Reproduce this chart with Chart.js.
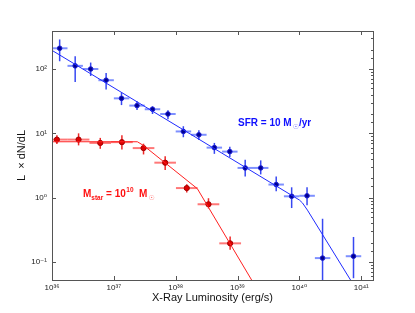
<!DOCTYPE html>
<html>
<head>
<meta charset="utf-8">
<script src="https://cdn.jsdelivr.net/npm/chart.js@4"></script>
<style>
  html, body { margin: 0; padding: 0; background: #fff; }
</style>
</head>
<body>
<canvas id="chart" width="415" height="313"></canvas>
<script>
// Blue sample (SFR = 10 Msun/yr): bin centres, values and error ranges
const blueLum   = [1.33e36, 2.37e36, 4.22e36, 7.5e36, 1.33e37, 2.37e37, 4.22e37, 7.5e37, 1.33e38, 2.37e38, 4.22e38, 7.5e38, 1.33e39, 2.37e39, 4.22e39, 7.5e39, 1.33e40, 2.37e40, 7.5e40];
const blueLumLo = [1.0e36, 1.78e36, 3.16e36, 5.62e36, 1.0e37, 1.78e37, 3.16e37, 5.62e37, 1.0e38, 1.78e38, 3.16e38, 5.62e38, 1.0e39, 1.78e39, 3.16e39, 5.62e39, 1.0e40, 1.78e40, 5.62e40];
const blueLumHi = [1.78e36, 3.16e36, 5.62e36, 1.0e37, 1.78e37, 3.16e37, 5.62e37, 1.0e38, 1.78e38, 3.16e38, 5.62e38, 1.0e39, 1.78e39, 3.16e39, 5.62e39, 1.0e40, 1.78e40, 3.16e40, 1.0e41];
const blueVal   = [210, 112, 100, 67, 35, 27, 23.7, 20, 10.7, 9.5, 6.0, 5.2, 2.9, 2.9, 1.6, 1.05, 1.07, 0.115, 0.123];
const blueHi    = [288, 158, 126, 87, 43, 31.6, 26.3, 22.9, 12.9, 11.2, 7.1, 6.2, 3.9, 3.8, 2.14, 1.45, 1.45, 0.47, 0.245];
const blueLo    = [132, 63, 78, 48, 27.5, 23, 20, 16.6, 8.7, 7.9, 4.8, 4.3, 2.14, 2.3, 1.26, 0.69, 0.76, 0.01, 0.056];

// Red sample (Mstar = 1e10 Msun)
const redLum   = [1.2e36, 2.69e36, 6.03e36, 1.35e37, 3.02e37, 6.76e37, 1.51e38, 3.39e38, 7.59e38];
const redLumLo = [8.04e35, 1.8e36, 4.03e36, 9.0e36, 2.02e37, 4.52e37, 1.01e38, 2.26e38, 5.07e38];
const redLumHi = [1.8e36, 4.03e36, 9.0e36, 2.02e37, 4.52e37, 1.01e38, 2.26e38, 5.07e38, 1.14e39];
const redVal   = [8.0, 8.0, 7.1, 7.3, 5.9, 3.5, 1.41, 0.79, 0.195];
const redHi    = [9.3, 10, 8.5, 9.3, 6.9, 4.4, 1.62, 0.98, 0.25];
const redLo    = [6.8, 6.5, 5.75, 5.6, 4.7, 2.7, 1.2, 0.68, 0.155];

// model curves
const blueFitLum = [1e36, 1e40, 1.12e40, 1.35e40, 8e40];
const blueFitVal = [195, 0.92, 0.83, 0.64, 0.04];
const redFitLum  = [1e36, 2.4e37, 3.0e37, 2.24e38, 2.0e39];
const redFitVal  = [7.4, 7.4, 6.5, 1.38, 0.04];

// axes
const xMin = 1e36, xMax = 1.55e41;
const yMin = 0.0525, yMax = 390;
const xTickPowers = [36, 37, 38, 39, 40, 41];
const xTickLabels = ['10³⁶', '10³⁷', '10³⁸', '10³⁹', '10⁴⁰', '10⁴¹'];
const yTickPowers = [-1, 0, 1, 2];
const yTickLabels = ['10⁻¹', '10⁰', '10¹', '10²'];

const FONT = "'Liberation Sans', Arial, 'DejaVu Sans', sans-serif";

function isDecade(v) {
    const l = Math.log10(v);
    return Math.abs(l - Math.round(l)) < 1e-6;
}

function pts(xs, ys) {
    return xs.map((x, i) => ({ x: x, y: ys[i] }));
}

function drawErrors(chart, lum, lumLo, lumHi, val, lo, hi, colH, colV) {
    const { ctx, scales: { x, y } } = chart;
    for (let i = 0; i < lum.length; i++) {
        const px = x.getPixelForValue(lum[i]);
        const py = y.getPixelForValue(val[i]);
        ctx.strokeStyle = colH;
        ctx.lineWidth = 2;
        ctx.beginPath();
        ctx.moveTo(x.getPixelForValue(lumLo[i]), py);
        ctx.lineTo(x.getPixelForValue(lumHi[i]), py);
        ctx.stroke();
        ctx.strokeStyle = colV;
        ctx.lineWidth = 1.5;
        ctx.beginPath();
        ctx.moveTo(px, y.getPixelForValue(hi[i]));
        ctx.lineTo(px, y.getPixelForValue(lo[i]));
        ctx.stroke();
    }
}

const errorBars = {
    id: 'errorBars',
    beforeDatasetsDraw(chart) {
        const { ctx, chartArea: a } = chart;
        ctx.save();
        ctx.beginPath();
        ctx.rect(a.left, a.top, a.right - a.left, a.bottom - a.top);
        ctx.clip();
        drawErrors(chart, blueLum, blueLumLo, blueLumHi, blueVal, blueLo, blueHi, 'rgba(40,70,255,0.6)', 'rgba(20,40,240,0.85)');
        drawErrors(chart, redLum, redLumLo, redLumHi, redVal, redLo, redHi, 'rgba(255,30,30,0.6)', 'rgba(235,0,0,0.85)');
        ctx.restore();
    }
};

// box round the plot with inward ticks
const frame = {
    id: 'frame',
    afterDraw(chart) {
        const { ctx, chartArea: a, scales: { x, y } } = chart;
        ctx.save();
        ctx.strokeStyle = '#555';
        ctx.lineWidth = 1;
        ctx.strokeRect(a.left + 0.5, a.top + 0.5, a.right - a.left, a.bottom - a.top);
        ctx.beginPath();
        x.ticks.forEach(t => {
            if (!isDecade(t.value)) return;
            const px = Math.round(x.getPixelForValue(t.value)) + 0.5;
            ctx.moveTo(px, a.bottom); ctx.lineTo(px, a.bottom - 4);
            ctx.moveTo(px, a.top); ctx.lineTo(px, a.top + 4);
        });
        y.ticks.forEach(t => {
            const py = Math.round(y.getPixelForValue(t.value)) + 0.5;
            if (py < a.top + 2 || py > a.bottom - 2) return;
            const len = isDecade(t.value) ? 4 : 2;
            ctx.moveTo(a.right, py); ctx.lineTo(a.right - len, py);
            if (isDecade(t.value)) { ctx.moveTo(a.left, py); ctx.lineTo(a.left + len, py); }
        });
        ctx.stroke();
        ctx.restore();
    }
};

// text written inside the plot
const notes = {
    id: 'notes',
    afterDraw(chart) {
        const ctx = chart.ctx;
        ctx.save();
        ctx.textBaseline = 'alphabetic';
        ctx.textAlign = 'left';
        let cx;

        ctx.fillStyle = '#1010ff';
        ctx.font = 'bold 10px ' + FONT;
        ctx.fillText('SFR = 10 M', 238, 126);
        cx = 238 + ctx.measureText('SFR = 10 M').width + 1;
        ctx.fillStyle = '#6a6aff';
        ctx.font = '7px ' + FONT;
        ctx.fillText('☉', cx, 129);
        cx += ctx.measureText('☉').width;
        ctx.fillStyle = '#1010ff';
        ctx.font = 'bold 10px ' + FONT;
        ctx.fillText('/yr', cx, 126);

        ctx.fillStyle = '#ff1010';
        ctx.font = 'bold 10px ' + FONT;
        ctx.fillText('M', 83, 197);
        cx = 83 + ctx.measureText('M').width;
        ctx.font = 'bold 6.5px ' + FONT;
        ctx.fillText('star', cx, 200);
        cx += ctx.measureText('star').width;
        ctx.font = 'bold 10px ' + FONT;
        ctx.fillText(' = 10', cx, 197);
        cx += ctx.measureText(' = 10').width + 0.5;
        ctx.font = 'bold 6.5px ' + FONT;
        ctx.fillText('10', cx, 192);
        cx += ctx.measureText('10').width;
        ctx.font = 'bold 10px ' + FONT;
        ctx.fillText('  M', cx, 197);
        cx += ctx.measureText('  M').width + 1;
        ctx.fillStyle = '#ff6a6a';
        ctx.font = '7px ' + FONT;
        ctx.fillText('☉', cx, 200);
        ctx.restore();
    }
};

new Chart(document.getElementById('chart'), {
    type: 'scatter',
    data: {
        datasets: [
            {
                type: 'line',
                data: pts(blueFitLum, blueFitVal),
                borderColor: '#1f2bff',
                borderWidth: 1,
                pointRadius: 0,
                fill: false
            },
            {
                type: 'line',
                data: pts(redFitLum, redFitVal),
                borderColor: '#ff2020',
                borderWidth: 1,
                pointRadius: 0,
                fill: false
            },
            {
                data: pts(blueLum, blueVal),
                backgroundColor: '#00008f',
                borderColor: '#1a1ad0',
                borderWidth: 1,
                pointRadius: 2.3
            },
            {
                data: pts(redLum, redVal),
                backgroundColor: '#e00000',
                borderColor: '#a00000',
                borderWidth: 1,
                pointRadius: 2.6
            }
        ]
    },
    options: {
        responsive: false,
        animation: false,
        devicePixelRatio: 1,
        layout: { padding: { top: 31, right: 42, left: 0, bottom: 0 } },
        plugins: {
            legend: { display: false },
            tooltip: { enabled: false }
        },
        scales: {
            x: {
                type: 'logarithmic',
                min: xMin,
                max: xMax,
                grid: { display: false, drawTicks: false },
                border: { display: false },
                afterFit: s => { s.height = 33; },
                ticks: {
                    autoSkip: false,
                    maxRotation: 0,
                    padding: 3,
                    color: '#222',
                    font: { size: 8, family: FONT },
                    callback: v => {
                        if (!isDecade(v)) return '';
                        const i = xTickPowers.indexOf(Math.round(Math.log10(v)));
                        return i < 0 ? '' : xTickLabels[i];
                    }
                },
                title: {
                    display: true,
                    text: 'X-Ray Luminosity (erg/s)',
                    color: '#111',
                    font: { size: 11, family: FONT },
                    padding: { top: 0, bottom: 8 }
                }
            },
            y: {
                type: 'logarithmic',
                min: yMin,
                max: yMax,
                grid: { display: false, drawTicks: false },
                border: { display: false },
                afterFit: s => { s.width = 52; },
                ticks: {
                    autoSkip: false,
                    padding: 5,
                    color: '#222',
                    font: { size: 8, family: FONT },
                    callback: v => {
                        if (!isDecade(v)) return '';
                        const i = yTickPowers.indexOf(Math.round(Math.log10(v)));
                        return i < 0 ? '' : yTickLabels[i];
                    }
                },
                title: {
                    display: true,
                    text: 'L  × dN/dL',
                    color: '#111',
                    font: { size: 11, family: FONT },
                    padding: { top: 15, bottom: 0 }
                }
            }
        }
    },
    plugins: [errorBars, frame, notes]
});
</script>
</body>
</html>
